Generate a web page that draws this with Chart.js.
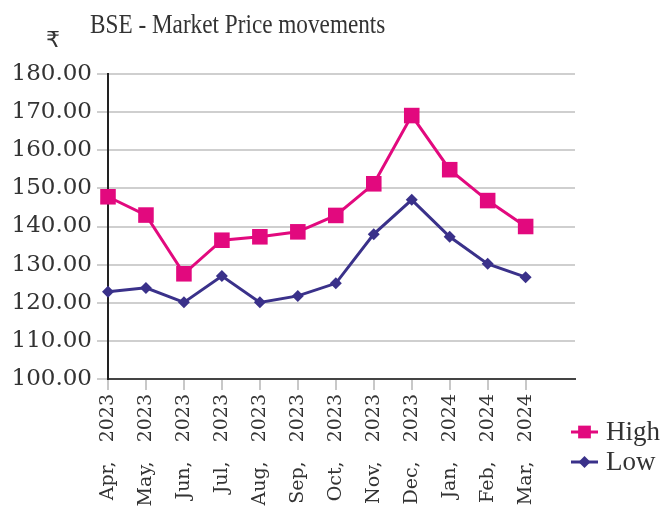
<!DOCTYPE html>
<html>
<head>
<meta charset="utf-8">
<script src="https://cdn.jsdelivr.net/npm/chart.js@4"></script>
<style>
  body { margin: 0; background: #fff; }
  #wrap { width: 662px; height: 515px; }
</style>
</head>
<body>
<div id="wrap"><canvas id="priceChart" width="662" height="515"></canvas></div>
<script>
// Chart data
const months = ['Apr, 2023', 'May, 2023', 'Jun, 2023', 'Jul, 2023', 'Aug, 2023', 'Sep, 2023',
                'Oct, 2023', 'Nov, 2023', 'Dec, 2023', 'Jan, 2024', 'Feb, 2024', 'Mar, 2024'];
const highPrices = [147.8, 143.0, 127.6, 136.4, 137.3, 138.6, 142.9, 151.2, 169.1, 154.9, 146.8, 140.0];
const lowPrices = [122.9, 123.9, 120.1, 127.0, 120.1, 121.8, 125.1, 138.0, 147.0, 137.3, 130.2, 126.7];
const yTicks = [100, 110, 120, 130, 140, 150, 160, 170, 180];

const seriesNames = ['High', 'Low'];
const seriesColors = ['#e2097e', '#3a318a'];
const serif = '"DejaVu Serif", "Liberation Serif", serif';

// title, rupee sign and legend
const extras = {
    id: 'extras',
    afterDraw(chart) {
        const c = chart.ctx;
        c.save();
        c.fillStyle = '#333';
        c.textBaseline = 'alphabetic';
        c.textAlign = 'left';
        // condensed title
        c.save();
        c.translate(90, 33);
        c.scale(0.86, 1);
        c.font = '27px "Liberation Serif", serif';
        c.fillText('BSE - Market Price movements', 0, 0);
        c.restore();
        c.font = '22px "DejaVu Sans", "Noto Sans", sans-serif';
        c.fillText('₹', 46, 47);

        const items = [{ y: 432, style: 'rect', r: 9 }, { y: 462, style: 'rectRot', r: 6 }];
        items.forEach((it, i) => {
            c.strokeStyle = seriesColors[i];
            c.lineWidth = 3;
            c.beginPath();
            c.moveTo(571, it.y);
            c.lineTo(598, it.y);
            c.stroke();
            c.fillStyle = seriesColors[i];
            Chart.helpers.drawPoint(c, { pointStyle: it.style, radius: it.r, borderWidth: 0 }, 584.5, it.y);
            c.fillStyle = '#333';
            c.font = '27px "Liberation Serif", serif';
            c.textBaseline = 'middle';
            c.fillText(seriesNames[i], 606, it.y + 1);
        });
        c.restore();
    }
};

const ctx = document.getElementById('priceChart').getContext('2d');
new Chart(ctx, {
    type: 'line',
    data: {
        datasets: [{
            label: seriesNames[0],
            data: highPrices.map((v, i) => ({ x: i, y: v })),
            borderColor: seriesColors[0],
            backgroundColor: seriesColors[0],
            borderWidth: 3,
            pointStyle: 'rect',
            pointRadius: 11,
            pointBorderWidth: 0,
            tension: 0,
            clip: false
        }, {
            label: seriesNames[1],
            data: lowPrices.map((v, i) => ({ x: i, y: v })),
            borderColor: seriesColors[1],
            backgroundColor: seriesColors[1],
            borderWidth: 3,
            pointStyle: 'rectRot',
            pointRadius: 6,
            pointBorderWidth: 0,
            tension: 0,
            clip: false
        }]
    },
    options: {
        responsive: false,
        animation: false,
        layout: { padding: { left: 0, right: 87, top: 74, bottom: 0 } },
        scales: {
            x: {
                type: 'linear',
                min: 0,
                max: 12.3,
                afterBuildTicks: axis => { axis.ticks = months.map((m, i) => ({ value: i })); },
                afterFit: axis => { axis.height = 515 - 379; },
                border: { display: true, color: '#444', width: 2 },
                grid: { drawOnChartArea: false, drawTicks: true, tickLength: 11, color: '#c8c8c8', lineWidth: 2 },
                ticks: {
                    autoSkip: false,
                    minRotation: 90,
                    maxRotation: 90,
                    padding: 4,
                    color: '#333',
                    font: { family: serif, size: 19 },
                    callback: v => months[v].replace(' ', '\u2003')
                }
            },
            y: {
                min: 100,
                max: 180,
                afterBuildTicks: axis => { axis.ticks = yTicks.map(v => ({ value: v })); },
                afterFit: axis => { axis.width = 108; },
                border: { display: true, color: '#222', width: 2 },
                grid: { color: '#cfcfcf', lineWidth: 2, tickLength: 11 },
                ticks: {
                    padding: 5,
                    color: '#333',
                    font: { family: serif, size: 23 },
                    callback: v => v.toFixed(2)
                }
            }
        },
        plugins: {
            legend: { display: false },
            tooltip: { enabled: false }
        }
    },
    plugins: [extras]
});
</script>
</body>
</html>
